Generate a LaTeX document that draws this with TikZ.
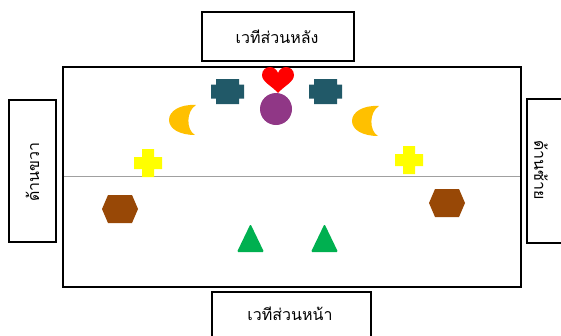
\documentclass[tikz,border=0pt]{standalone}
\usepackage{fontspec}
\newfontfamily\thaifont[Script=Thai]{Loma}
\definecolor{heartred}{RGB}{255,0,0}
\definecolor{plum}{RGB}{144,55,134}
\definecolor{teal}{RGB}{33,89,104}
\definecolor{moon}{RGB}{255,192,0}
\definecolor{yel}{RGB}{255,255,0}
\definecolor{brown}{RGB}{152,72,6}
\definecolor{grn}{RGB}{0,176,80}
\definecolor{midline}{RGB}{160,160,160}
\tikzset{
  box/.style={draw=black,line width=1.5pt,fill=white},
  label/.style={font=\thaifont\fontsize{16}{18}\selectfont,inner sep=0pt},
}
\begin{document}
\begin{tikzpicture}[x=1pt,y=-1pt]
\useasboundingbox (0,0) rectangle (561,335);
% stage area
\draw[line width=1.5pt] (63,67) rectangle (521,287);
\draw[midline,line width=1pt] (63.8,176) -- (520.2,176);
% surrounding boxes
\draw[box] (202,12) rectangle (354,61);
\node[label] (back) at (277,37) {เวทีส่วนหลัง};
\draw[box] (212,292) rectangle (371,345);
\node[label] (front) at (290,314) {เวทีส่วนหน้า};
\draw[box] (9,100) rectangle (56,242);
\node[label,rotate=90] (right) at (32.5,172) {ด้านขวา};
\draw[box] (527,99) rectangle (570,243);
\node[label,rotate=-90] (left) at (541,170) {ด้านซ้าย};
% heart
\fill[heartred,shift={(278,80)}] (0,13) .. controls (-6,6) and (-16,2) .. (-16,-5)
  .. controls (-16,-10) and (-12,-13) .. (-8,-13)
  .. controls (-4,-13) and (-1,-10) .. (0,-7)
  .. controls (1,-10) and (4,-13) .. (8,-13)
  .. controls (12,-13) and (16,-10) .. (16,-5)
  .. controls (16,2) and (6,6) .. (0,13) -- cycle;
% circle
\fill[plum] (276,109) circle (16);
% teal plaques
\foreach \cx in {227.5,325.5}{
  \fill[teal,shift={(\cx,91.5)}] (-11.5,-12.5) -- (11.5,-12.5) -- (11.5,-7) -- (16.5,-7)
    -- (16.5,7) -- (11.5,7) -- (11.5,12.5) -- (-11.5,12.5) -- (-11.5,7) -- (-16.5,7)
    -- (-16.5,-7) -- (-11.5,-7) -- cycle;
}
% moons
\foreach \dx/\dy in {0/0,183/1}{
  \fill[moon,shift={(\dx,\dy)}] (196,105) .. controls (180,104) and (169,111) .. (169,120)
    .. controls (169,129) and (180,135) .. (195,135)
    .. controls (186,130) and (186,111) .. (196,105) -- cycle;
}
% yellow crosses
\foreach \cx/\cy in {148/163,409/160}{
  \fill[yel,shift={(\cx,\cy)}] (-6,-14) -- (6,-14) -- (6,-6) -- (14,-6) -- (14,6) -- (6,6)
    -- (6,14) -- (-6,14) -- (-6,6) -- (-14,6) -- (-14,-6) -- (-6,-6) -- cycle;
}
% hexagons
\foreach \cx/\cy in {120/209,447/203}{
  \fill[brown,shift={(\cx,\cy)}] (-18,0) -- (-12,-14) -- (12,-14) -- (18,0) -- (12,14) -- (-12,14) -- cycle;
}
% triangles
\foreach \cx in {250.5,324.5}{
  \fill[grn,rounded corners=1.2pt,shift={(\cx,238)}] (0,-14) -- (13.5,14) -- (-13.5,14) -- cycle;
}
\end{tikzpicture}
\end{document}
